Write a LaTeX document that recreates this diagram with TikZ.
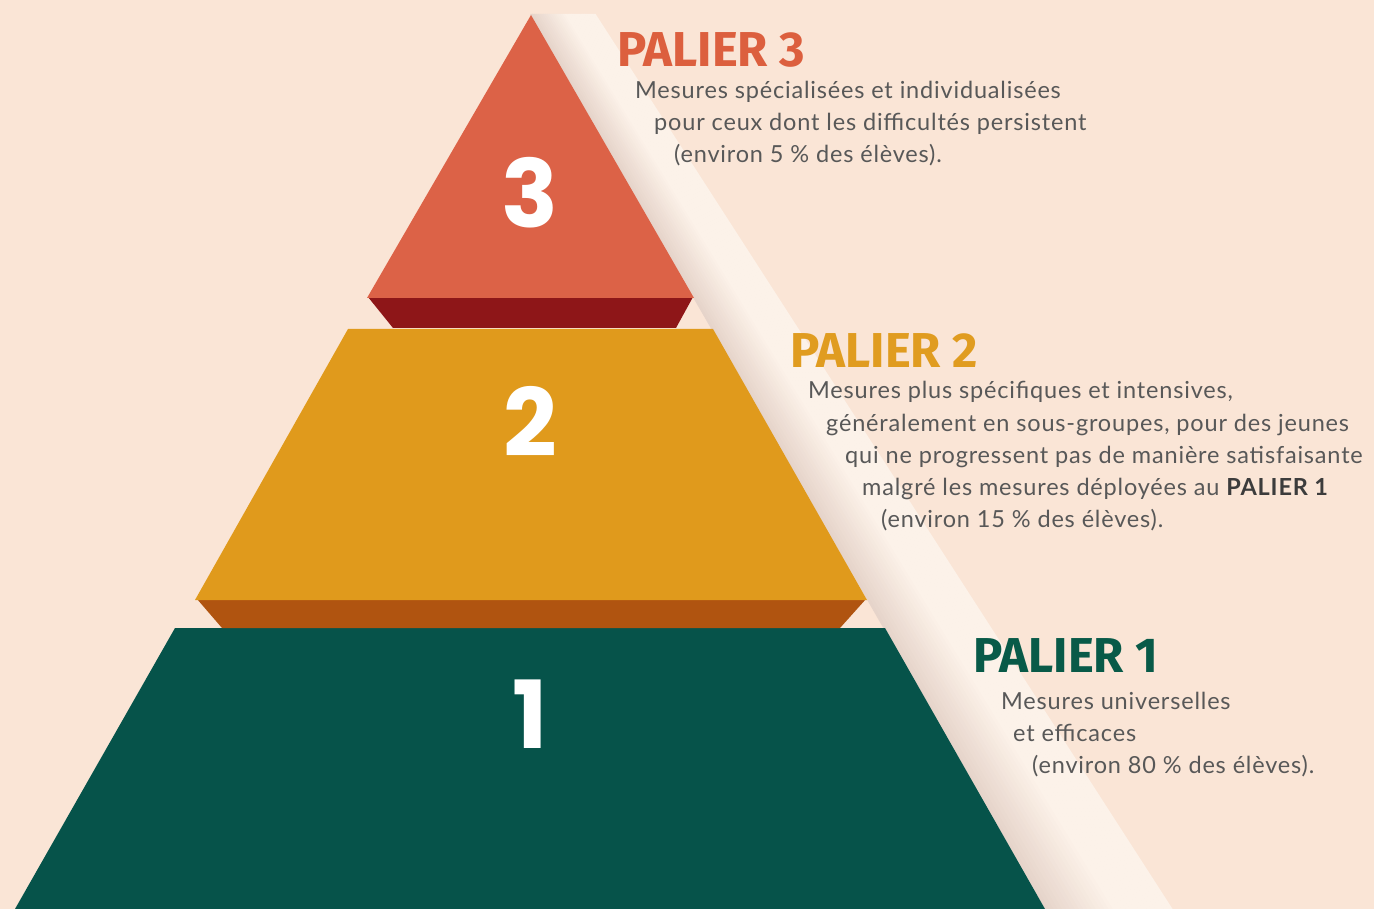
\documentclass[tikz,border=0pt]{standalone}
\usepackage{fontspec}
\setmainfont{Lato}[LetterSpace=3.5]
\newfontfamily\titlefont{Fira Sans}
\newfontfamily\numfont{Poppins}
\definecolor{bg}{RGB}{250,229,214}
\definecolor{bandA}{RGB}{230,212,202}
\definecolor{bandB}{RGB}{252,242,233}
\definecolor{greenF}{RGB}{6,83,74}
\definecolor{orangeF}{RGB}{224,154,28}
\definecolor{orangeB}{RGB}{176,84,16}
\definecolor{redF}{RGB}{220,98,71}
\definecolor{redB}{RGB}{142,22,24}
\definecolor{tRed}{RGB}{220,95,62}
\definecolor{tOrange}{RGB}{224,156,32}
\definecolor{tGreen}{RGB}{8,90,72}
\definecolor{bodyGray}{RGB}{88,88,88}
\definecolor{boldGray}{RGB}{60,60,60}
\tikzset{
  numlabel/.style={text=white, font=\numfont\bfseries\fontsize{94}{94}\selectfont, anchor=base, inner sep=0pt},
  titlelabel/.style={font=\titlefont\bfseries\fontsize{49}{49}\selectfont, anchor=base west, inner sep=0pt},
  bodyline/.style={text=bodyGray, font=\fontsize{23.5}{23.5}\selectfont, anchor=base west, inner sep=0pt},
}
\begin{document}
\begin{tikzpicture}[x=1pt,y=-1pt]
\useasboundingbox (0,0) rectangle (1374,909);
\fill[bg] (0,0) rectangle (1374,909);
% light band behind the pyramid
\foreach \i in {0,...,29}{
  \pgfmathsetmacro{\ta}{\i/30}
  \pgfmathsetmacro{\tb}{(\i+1)/30}
  \pgfmathsetmacro{\mix}{min(100,\i*100/16)}
  \fill[bandB!\mix!bandA] (530+65*\ta,14) -- (530+65*\tb+0.6,14) -- (1045+127*\tb+0.6,909) -- (1045+127*\ta,909) -- cycle;
}
% tier 1
\fill[greenF] (175,628) -- (885,628) -- (1045,909) -- (15,909) -- cycle;
% tier 2
\fill[orangeB] (197,599) -- (866,599) -- (840,628) -- (222,628) -- cycle;
\fill[orangeF] (348,329) -- (713,329) -- (867,600) -- (195,600) -- cycle;
% tier 3
\fill[redB] (368,297) -- (693,297) -- (676,328) -- (393,328) -- cycle;
\fill[redF] (531,15) -- (694,298) -- (367,298) -- cycle;
% numbers
\node[numlabel] (n3) at (530,228) {3};
\node[numlabel] (n2) at (530,456) {2};
\node[numlabel] (n1) at (530,748) {1};
% palier 3
\node[titlelabel, text=tRed] (t3) at (617,67) {PALIER 3};
\node[bodyline] (p3a) at (635,99) {Mesures spécialisées et individualisées};
\node[bodyline] (p3b) at (654,131) {pour ceux dont les difficultés persistent};
\node[bodyline] (p3c) at (674,163) {(environ 5 \% des élèves).};
% palier 2
\node[titlelabel, text=tOrange] (t2) at (790,368) {PALIER 2};
\node[bodyline] (p2a) at (808,399) {Mesures plus spécifiques et intensives,};
\node[bodyline] (p2b) at (826,431) {généralement en sous-groupes, pour des jeunes};
\node[bodyline] (p2c) at (845,463) {qui ne progressent pas de manière satisfaisante};
\node[bodyline] (p2d) at (862,495) {malgré les mesures déployées au {\bfseries\color{boldGray}PALIER 1}};
\node[bodyline] (p2e) at (881,527) {(environ 15 \% des élèves).};
% palier 1
\node[titlelabel, text=tGreen] (t1) at (973,672) {PALIER 1};
\node[bodyline] (p1a) at (1001,709) {Mesures universelles};
\node[bodyline] (p1b) at (1013,741) {et efficaces};
\node[bodyline] (p1c) at (1032,773) {(environ 80 \% des élèves).};
\end{tikzpicture}
\end{document}
